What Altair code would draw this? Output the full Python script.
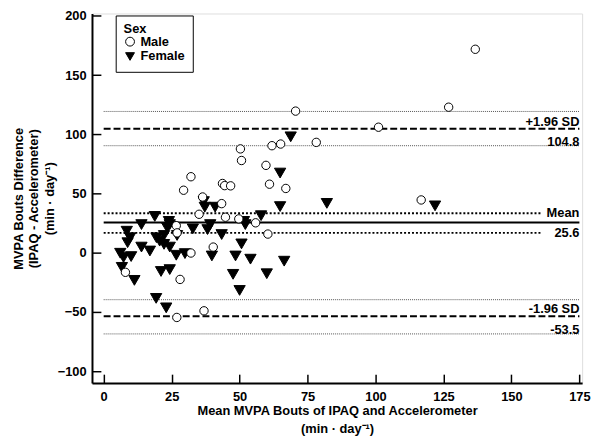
import altair as alt
import pandas as pd

# ---- data ----
male_x = [50.3, 50.7, 32.1, 29.4, 59.7, 43.7, 44.5, 46.7, 61.0, 67.0, 36.4, 43.4,
          35.1, 44.8, 49.7, 55.9, 26.7, 27.0, 60.4, 40.3, 32.1, 8.0, 28.1, 36.9,
          26.9, 70.6, 78.2, 61.9, 65.1, 101.1, 126.9, 136.7, 116.8]
male_y = [87.7, 77.9, 64.2, 52.8, 73.8, 58.5, 56.7, 56.5, 57.9, 54.3, 47.1, 41.5,
          32.5, 30.0, 28.6, 25.3, 22.9, 16.8, 15.8, 4.8, -0.2, -16.5, -22.5, -49.0,
          -54.6, 119.6, 93.2, 90.4, 91.8, 106.0, 122.9, 171.8, 44.6]

female_x = [64.9, 36.8, 37.2, 41.0, 64.9, 18.8, 13.9, 24.0, 24.3, 23.4, 32.8, 39.2,
            38.2, 51.6, 52.1, 57.9, 43.4, 8.5, 9.7, 8.8, 19.4, 22.2, 20.6, 22.2,
            24.3, 27.0, 13.9, 17.0, 6.1, 7.3, 10.1, 26.7, 29.9, 50.7, 39.8, 48.5,
            54.0, 66.4, 6.7, 11.3, 21.1, 24.3, 47.6, 60.0, 50.0, 19.3, 23.0, 68.8,
            82.1, 121.9]
female_y = [67.3, 43.2, 38.5, 38.5, 39.0, 30.7, 23.8, 26.5, 23.8, 21.0, 20.2, 23.8,
            19.6, 26.5, 23.8, 31.3, 15.4, 18.2, 12.7, 8.5, 12.7, 14.6, 9.8, 7.1,
            4.8, 14.6, 4.8, 1.5, -0.4, -4.0, -3.2, -2.1, -0.7, 7.5, -2.7, -2.7,
            -5.4, -7.1, -12.3, -23.3, -15.8, -14.2, -18.2, -17.7, -31.8, -38.5, -46.5, 97.9,
            41.7, 39.6]

x_ticks = [0, 25, 50, 75, 100, 125, 150, 175]
y_ticks = [-100, -50, 0, 50, 100, 150, 200]

mean_diff = 25.6
loa = [104.8, -53.5]
mean_ci = [33.3, 16.8]
loa_ci = [119.3, 90.4, -39.6, -68.5]
line_start = 0
line_end = 175
mean_ci_end = 161

above_labels = ["+1.96 SD", "-1.96 SD"]
value_labels = ["104.8", "-53.5"]
mean_labels = ["Mean", "25.6"]

sex_domain = ["Male", "Female"]

FONT = "Liberation Sans"

# ---- tables ----
male_df = pd.DataFrame({"mean": male_x, "diff": male_y, "Sex": "Male"})
female_df = pd.DataFrame({"mean": female_x, "diff": female_y, "Sex": "Female"})
ci_df = pd.DataFrame({"diff": loa_ci, "mean": line_start, "mean_end": line_end})
loa_df = pd.DataFrame({"diff": loa, "mean": line_start, "mean_end": line_end})
mean_df = pd.DataFrame({"diff": [mean_diff], "mean": [line_start], "mean_end": [line_end]})
mean_ci_df = pd.DataFrame({"diff": mean_ci, "mean": line_start, "mean_end": mean_ci_end})
above_df = pd.DataFrame({"diff": loa, "mean": line_end, "label": above_labels})
value_df = pd.DataFrame({"diff": [loa_ci[1], loa_ci[3]], "mean": line_end, "label": value_labels})
mean_lab_df = pd.DataFrame({"diff": mean_ci, "mean": line_end, "label": mean_labels})

axis_style = dict(
    domainColor="black", domainWidth=2, tickColor="black", tickWidth=1.5,
    tickSize=alt.ExprRef(expr="-9"), grid=False,
    labelFont=FONT, labelFontSize=13, labelFontWeight="bold", labelColor="black",
    titleFont=FONT, titleFontSize=13, titleFontWeight="bold", titleColor="black",
)

x_enc = alt.X("mean:Q",
              scale=alt.Scale(domain=[-4.3, 176], nice=False, zero=False),
              axis=alt.Axis(values=x_ticks, labelPadding=17,
                            title=["Mean MVPA Bouts of IPAQ and Accelerometer", "(min · day⁻¹)"],
                            titlePadding=1, titleLineHeight=18, **axis_style))
y_enc = alt.Y("diff:Q",
              scale=alt.Scale(domain=[-110, 202], nice=False, zero=False),
              axis=alt.Axis(values=y_ticks, labelPadding=15,
                            title=["MVPA Bouts Difference", "(IPAQ - Accelerometer)", "(min · day⁻¹)"],
                            titlePadding=1, titleLineHeight=15.5, **axis_style))

legend = alt.Legend(title="Sex", orient="none", legendX=24, legendY=2,
                    strokeColor="black", fillColor="white", padding=8,
                    labelExpr="datum.label + '    '")
shape_enc = alt.Shape("Sex:N", scale=alt.Scale(domain=sex_domain, range=["circle", "triangle-down"]),
                      legend=legend)
fill_enc = alt.Fill("Sex:N", scale=alt.Scale(domain=sex_domain, range=["white", "black"]),
                    legend=legend)
stroke_enc = alt.Stroke("Sex:N", scale=alt.Scale(domain=sex_domain, range=["black", "black"]),
                        legend=legend)

ci_lines = alt.Chart(ci_df).mark_rule(color="#555555", strokeWidth=1, strokeDash=[1, 1]).encode(
    x=x_enc, x2="mean_end:Q", y=y_enc)
loa_lines = alt.Chart(loa_df).mark_rule(color="black", strokeWidth=2, strokeDash=[7, 3]).encode(
    x=x_enc, x2="mean_end:Q", y=y_enc)
mean_line = alt.Chart(mean_df).mark_rule(color="black", strokeWidth=2).encode(
    x=x_enc, x2="mean_end:Q", y=y_enc)
mean_ci_lines = alt.Chart(mean_ci_df).mark_rule(color="black", strokeWidth=2, strokeDash=[2, 2]).encode(
    x=x_enc, x2="mean_end:Q", y=y_enc)

female_pts = alt.Chart(female_df).mark_point(
    filled=True, strokeWidth=1, opacity=1, size=130).encode(
    x=x_enc, y=y_enc, shape=shape_enc, fill=fill_enc, stroke=stroke_enc)
male_pts = alt.Chart(male_df).mark_point(
    filled=True, strokeWidth=1, opacity=1, size=72).encode(
    x=x_enc, y=y_enc, shape=shape_enc, fill=fill_enc, stroke=stroke_enc)

txt_style = dict(font=FONT, fontSize=13, fontWeight="bold", color="black", align="right")
above_txt = alt.Chart(above_df).mark_text(baseline="alphabetic", dy=-3, **txt_style).encode(
    x=x_enc, y=y_enc, text="label:N")
value_txt = alt.Chart(value_df).mark_text(baseline="alphabetic", dy=0, **txt_style).encode(
    x=x_enc, y=y_enc, text="label:N")
mean_txt = alt.Chart(mean_lab_df).mark_text(baseline="middle", dy=0, **txt_style).encode(
    x=x_enc, y=y_enc, text="label:N")

chart = alt.layer(
    ci_lines, loa_lines, mean_line, mean_ci_lines, female_pts, male_pts,
    above_txt, value_txt, mean_txt
).properties(
    width=496, height=374,
    autosize=alt.AutoSizeParams(type="none"),
    padding={"left": 85, "top": 3, "right": 10, "bottom": 52},
).configure_view(stroke=None).configure(background="white").configure_legend(
    titleFont=FONT, titleFontSize=13, titleFontWeight="bold", titleColor="black", titlePadding=-1,
    labelFont=FONT, labelFontSize=13, labelFontWeight="bold", labelColor="black",
    symbolSize=80, symbolStrokeWidth=1, rowPadding=1,
)

chart.save("out.html", embed_options={"renderer": "svg", "actions": False})
